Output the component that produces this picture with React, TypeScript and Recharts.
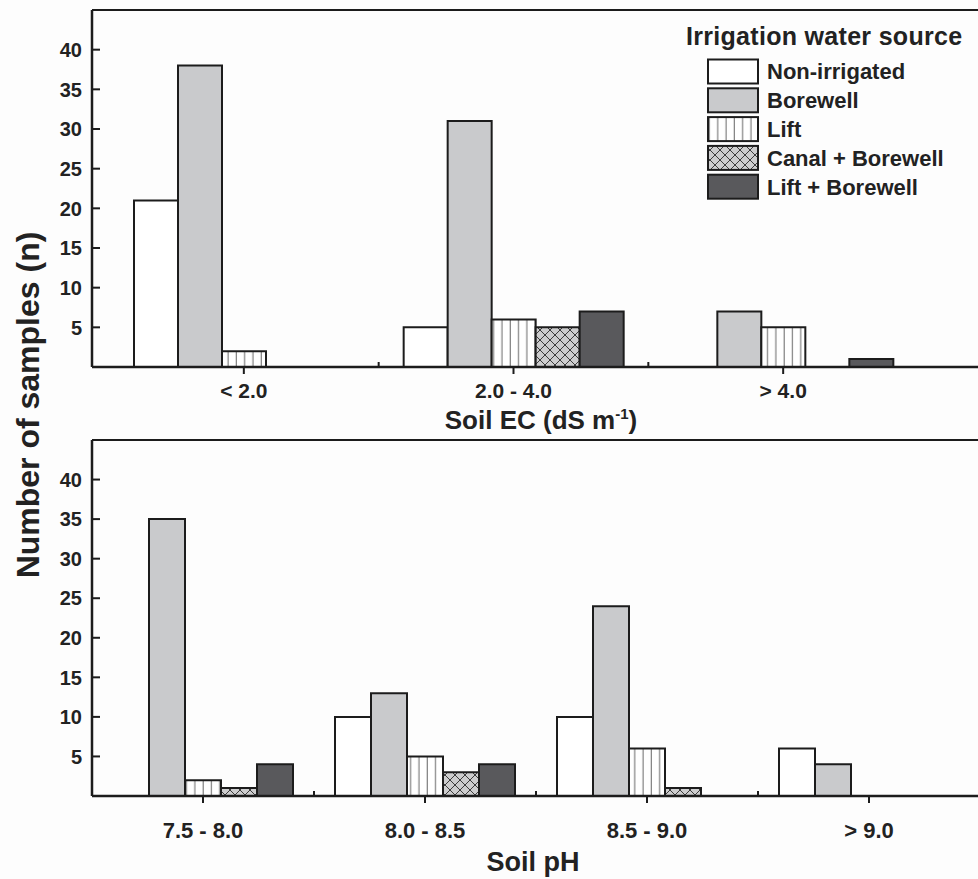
import React from "react";
import { BarChart, Bar, XAxis, YAxis, ReferenceLine } from "recharts";

// irrigation water source series (legend order)
const SOURCES = ["Non-irrigated", "Borewell", "Lift", "Canal + Borewell", "Lift + Borewell"];

// top panel: soil EC classes
const EC_CLASSES = ["< 2.0", "2.0 - 4.0", "> 4.0"];
const EC_NON_IRRIGATED = [21, 5, 0];
const EC_BOREWELL = [38, 31, 7];
const EC_LIFT = [2, 6, 5];
const EC_CANAL_BOREWELL = [0, 5, 0];
const EC_LIFT_BOREWELL = [0, 7, 1];

// bottom panel: soil pH classes
const PH_CLASSES = ["7.5 - 8.0", "8.0 - 8.5", "8.5 - 9.0", "> 9.0"];
const PH_NON_IRRIGATED = [0, 10, 10, 6];
const PH_BOREWELL = [35, 13, 24, 4];
const PH_LIFT = [2, 5, 6, 0];
const PH_CANAL_BOREWELL = [1, 3, 1, 0];
const PH_LIFT_BOREWELL = [4, 4, 0, 0];

const Y_TICKS = [5, 10, 15, 20, 25, 30, 35, 40];
const Y_MAX = 45;

const FILLS = ["#ffffff", "#c9cacc", "url(#liftHatch)", "url(#crossHatch)", "#59595c"];
const INK = "#1c1c1c";
const FONT = "'Liberation Sans', Arial, Helvetica, sans-serif";

const ecRows = EC_CLASSES.map((cat, i) => ({
  cat,
  s0: EC_NON_IRRIGATED[i],
  s1: EC_BOREWELL[i],
  s2: EC_LIFT[i],
  s3: EC_CANAL_BOREWELL[i],
  s4: EC_LIFT_BOREWELL[i],
}));

const phRows = PH_CLASSES.map((cat, i) => ({
  cat,
  s0: PH_NON_IRRIGATED[i],
  s1: PH_BOREWELL[i],
  s2: PH_LIFT[i],
  s3: PH_CANAL_BOREWELL[i],
  s4: PH_LIFT_BOREWELL[i],
}));

const CHART_W = 1000;
const MARGIN = { top: 10, right: 10, left: 0, bottom: 0 };
const Y_AXIS_W = 92;
const PLOT_W = CHART_W - MARGIN.right - MARGIN.left - Y_AXIS_W;

const EC_PAD = { left: 17, right: 72 };
const EC_BAND = (PLOT_W - EC_PAD.left - EC_PAD.right) / EC_CLASSES.length;
const PH_PAD = { left: 0, right: 10 };
const PH_BAND = (PLOT_W - PH_PAD.left - PH_PAD.right) / PH_CLASSES.length;

function YTick(props: any) {
  const { x, y, payload } = props;
  const axisX = x + 10;
  return (
    <g>
      <line x1={axisX} x2={axisX + 8} y1={y} y2={y} stroke={INK} strokeWidth={2} />
      <text x={x} y={y} dy="0.36em" textAnchor="end" fontFamily={FONT} fontWeight="bold" fontSize={20} fill="#222">
        {payload.value}
      </text>
    </g>
  );
}

function XTick(props: any) {
  const { x, y, payload, index, band, gap, size } = props;
  const axisY = y - 7;
  return (
    <g>
      {index > 0 && (
        <line x1={x - band / 2} x2={x - band / 2} y1={axisY} y2={axisY - 5} stroke={INK} strokeWidth={2} />
      )}
      <text x={x} y={axisY + gap} dy="0.36em" textAnchor="middle" fontFamily={FONT} fontWeight="bold" fontSize={size} fill="#222">
        {payload.value}
      </text>
    </g>
  );
}

function EcTitle(props: any) {
  const vb = props.viewBox || { x: 92, y: 367, width: 898 };
  const cx = vb.x + vb.width / 2;
  return (
    <text x={cx} y={vb.y + 53} dy="0.36em" textAnchor="middle" fontFamily={FONT} fontWeight="bold" fontSize={26} fill="#222">
      Soil EC (dS m<tspan dy={-10} fontSize={15}>-1</tspan>
      <tspan dy={10}>)</tspan>
    </text>
  );
}

function PhTitle(props: any) {
  const vb = props.viewBox || { x: 92, y: 796, width: 898 };
  const cx = vb.x + vb.width / 2 - 8;
  return (
    <text x={cx} y={vb.y + 65} dy="0.36em" textAnchor="middle" fontFamily={FONT} fontWeight="bold" fontSize={27} fill="#222">
      Soil pH
    </text>
  );
}

function Panel({ rows, height, xHeight, pad, band, barSize, tickGap, tickSize, title }: any) {
  return (
    <BarChart width={CHART_W} height={height} data={rows} margin={MARGIN} barGap={0} barSize={barSize}>
      <XAxis
        dataKey="cat"
        height={xHeight}
        interval={0}
        padding={pad}
        tickSize={7}
        tickMargin={0}
        axisLine={{ stroke: INK, strokeWidth: 2.5 }}
        tickLine={{ stroke: INK, strokeWidth: 2 }}
        tick={<XTick band={band} gap={tickGap} size={tickSize} />}
        label={title}
      />
      <YAxis
        width={Y_AXIS_W}
        domain={[0, Y_MAX]}
        ticks={Y_TICKS}
        interval={0}
        tickSize={0}
        tickMargin={10}
        tickLine={false}
        axisLine={{ stroke: INK, strokeWidth: 2.5 }}
        tick={<YTick />}
      />
      {/* frame top edge */}
      <ReferenceLine y={Y_MAX} stroke={INK} strokeWidth={2} />
      {SOURCES.map((s, i) => (
        <Bar key={s} dataKey={`s${i}`} name={s} fill={FILLS[i]} stroke={INK} strokeWidth={2} isAnimationActive={false} />
      ))}
    </BarChart>
  );
}

function Overlay() {
  return (
    <svg width={978} height={879} style={{ position: "absolute", left: 0, top: 0, pointerEvents: "none" }}>
      <defs>
        <pattern id="liftHatch" patternUnits="userSpaceOnUse" width={8.3} height={10}>
          <rect width={8.3} height={10} fill="#ffffff" />
          <line x1={4} x2={4} y1={0} y2={10} stroke="#808080" strokeWidth={1.2} />
        </pattern>
        <pattern id="crossHatch" patternUnits="userSpaceOnUse" width={10} height={10}>
          <rect width={10} height={10} fill="#cdcdce" />
          <line x1={0} y1={0} x2={10} y2={10} stroke="#3c3c3c" strokeWidth={1} />
          <line x1={10} y1={0} x2={0} y2={10} stroke="#3c3c3c" strokeWidth={1} />
        </pattern>
      </defs>

      <text
        x={27}
        y={405}
        dy="0.36em"
        transform="rotate(-90, 27, 405)"
        textAnchor="middle"
        fontFamily={FONT}
        fontWeight="bold"
        fontSize={32}
        fill="#222"
      >
        Number of samples (n)
      </text>

      <text x={686} y={45} fontFamily={FONT} fontWeight="bold" fontSize={25} fill="#222" letterSpacing={0.3}>
        Irrigation water source
      </text>
      {SOURCES.map((s, i) => {
        const cy = 71.5 + i * 28.8;
        return (
          <g key={s}>
            <rect x={708} y={cy - 12} width={50} height={24} fill={FILLS[i]} stroke={INK} strokeWidth={2} />
            <text x={767} y={cy} dy="0.36em" fontFamily={FONT} fontWeight="bold" fontSize={22} fill="#222">
              {s}
            </text>
          </g>
        );
      })}
    </svg>
  );
}

export default function App() {
  return (
    <div style={{ position: "absolute", left: 0, top: 0, width: 978, height: 879, overflow: "hidden", background: "#fdfdfd" }}>
      <div style={{ position: "absolute", left: 0, top: 0 }}>
        <Panel
          rows={ecRows}
          height={446}
          xHeight={79}
          pad={EC_PAD}
          band={EC_BAND}
          barSize={44}
          tickGap={23}
          tickSize={21}
          title={<EcTitle />}
        />
      </div>
      <div style={{ position: "absolute", left: 0, top: 430 }}>
        <Panel
          rows={phRows}
          height={449}
          xHeight={83}
          pad={PH_PAD}
          band={PH_BAND}
          barSize={36}
          tickGap={34}
          tickSize={22}
          title={<PhTitle />}
        />
      </div>
      <Overlay />
    </div>
  );
}
